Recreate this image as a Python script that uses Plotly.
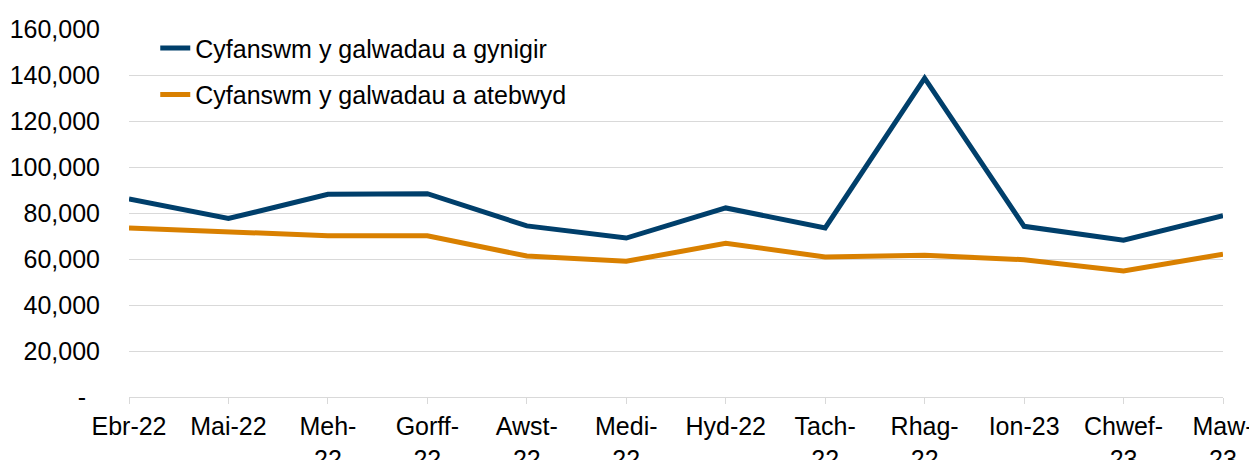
import plotly.graph_objects as go

categories = ["Ebr-22", "Mai-22", "Meh-22", "Gorff-22", "Awst-22", "Medi-22",
              "Hyd-22", "Tach-22", "Rhag-22", "Ion-23", "Chwef-23", "Maw-23"]
tick_labels = ["Ebr-22", "Mai-22", "Meh-<br>22", "Gorff-<br>22", "Awst-<br>22", "Medi-<br>22",
               "Hyd-22", "Tach-<br>22", "Rhag-<br>22", "Ion-23", "Chwef-<br>23", "Maw-<br>23"]
offered = [86100, 77600, 88100, 88400, 74400, 69100, 82200, 73500, 138600, 74200, 68200, 78800]
answered = [73500, 71800, 70100, 70100, 61300, 59000, 66800, 60900, 61600, 59700, 54800, 62100]
series_names = ["Cyfanswm y galwadau a gynigir", "Cyfanswm y galwadau a atebwyd"]
y_ticks = [0, 20000, 40000, 60000, 80000, 100000, 120000, 140000, 160000]
y_tick_labels = ["-\u00a0\u00a0", "20,000", "40,000", "60,000", "80,000", "100,000",
                 "120,000", "140,000", "160,000"]

BLUE = "#003F6B"
ORANGE = "#D98000"
GRID = "#D9D9D9"
FONT = "Arial, 'Liberation Sans', sans-serif"

fig = go.Figure()
fig.add_trace(go.Scatter(x=categories, y=offered, mode="lines", name=series_names[0],
                         line=dict(color=BLUE, width=5), legendgroup="a"))
fig.add_trace(go.Scatter(x=categories, y=answered, mode="lines", name=series_names[1],
                         line=dict(color=ORANGE, width=5), legendgroup="b"))

# the page body adds an 8px offset, so the figure is sized to end at the window edge
fig.update_layout(
    width=1249, height=452,
    margin=dict(l=121, r=34, t=21, b=63),
    paper_bgcolor="white", plot_bgcolor="white",
    font=dict(family=FONT, size=25, color="#000000"),
    showlegend=True,
    legend=dict(x=0.024, y=1.01, xanchor="left", yanchor="top",
                xref="paper", yref="paper",
                bgcolor="rgba(0,0,0,0)", font=dict(size=25, color="#000000"),
                tracegroupgap=11, traceorder="grouped"),
    xaxis=dict(type="category", range=[0, 11], tickmode="array",
               tickvals=categories, ticktext=tick_labels, automargin=False,
               showline=True, linecolor=GRID, linewidth=1.3,
               ticks="outside", ticklen=6, tickcolor=GRID, tickwidth=1.3,
               showgrid=False, ticklabelstandoff=1,
               tickfont=dict(size=25, color="#000000")),
    yaxis=dict(range=[0, 160000], tickmode="array", tickvals=y_ticks, ticktext=y_tick_labels,
               automargin=False,
               showgrid=True, gridcolor=GRID, gridwidth=1.3, zeroline=False,
               showline=False, ticks="", ticklabelstandoff=28,
               tickfont=dict(size=25, color="#000000")),
)

fig.write_html("out.html")
